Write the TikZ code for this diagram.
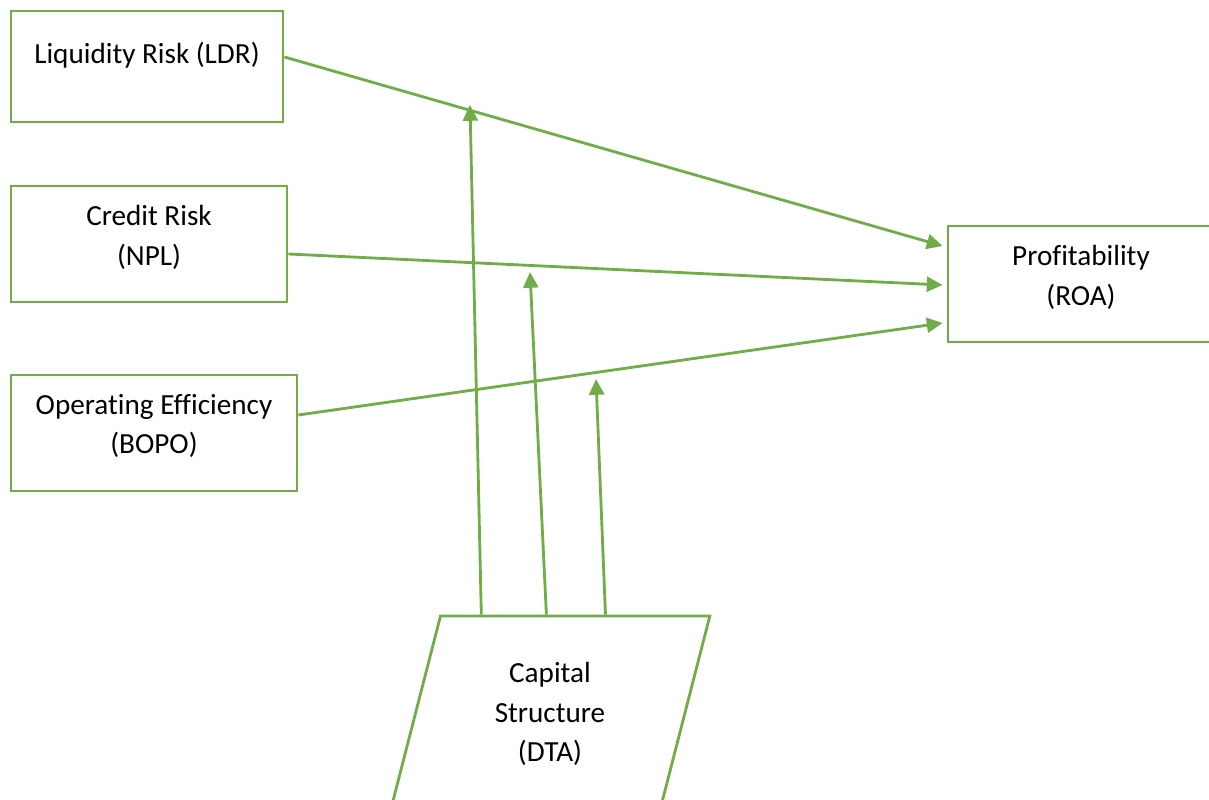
\documentclass[tikz,border=0pt]{standalone}
\usepackage{fontspec}
\setmainfont{Carlito}[Ligatures=NoCommon]
\usetikzlibrary{shapes.geometric,arrows.meta,calc}

\definecolor{linkgreen}{RGB}{112,173,71}

\begin{document}
\begin{tikzpicture}[
  varbox/.style={draw=linkgreen, line width=1.6pt, align=center, inner sep=0pt,
    font=\fontsize{16.6}{22.7}\selectfont},
  link/.style={draw=linkgreen, line width=1.6pt, -{Triangle[length=9pt,width=8.5pt]}}
]

  % page frame
  \clip (0,0) rectangle (24.18,16);
  \useasboundingbox (0,0) rectangle (24.18,16);

  % independent variables
  \node[varbox, minimum width=5.44cm, minimum height=2.22cm, text depth=0.55cm] (ldr) at (2.94,14.67) {Liquidity Risk (LDR)};
  \node[varbox, minimum width=5.52cm, minimum height=2.32cm, text depth=0.36cm] (npl) at (2.98,11.12) {Credit Risk\\(NPL)};
  \node[varbox, minimum width=5.72cm, minimum height=2.32cm, text depth=0.36cm] (bopo) at (3.08,7.34) {Operating Efficiency\\(BOPO)};

  % dependent variable
  \node[varbox, minimum width=5.32cm, minimum height=2.32cm, text depth=0.36cm] (roa) at (21.62,10.32) {Profitability\\(ROA)};

  % moderating variable
  \node[varbox, trapezium, trapezium stretches=true, trapezium left angle=76.3, trapezium right angle=103.7,
    minimum width=6.4cm, minimum height=3.92cm] (dta) at (11.0,1.72) {Capital\\Structure\\(DTA)};

  % direct effects
  \draw[link] ($(ldr.east)+(0,0.19)$) -- ($(roa.west)+(-0.08,0.76)$);
  \draw[link] ($(npl.east)+(0,-0.2)$) -- ($(roa.west)+(-0.08,-0.02)$);
  \draw[link] ($(bopo.east)+(0,0.36)$) -- ($(roa.west)+(-0.08,-0.78)$);

  % moderation onto each path
  \coordinate (ldrhit) at (9.40,13.90);
  \coordinate (nplhit) at (10.60,10.56);
  \coordinate (bopohit) at (11.92,8.42);
  \draw[link] ($(dta.top left corner)!0.154!(dta.top right corner)$) -- (ldrhit);
  \draw[link] ($(dta.top left corner)!0.393!(dta.top right corner)$) -- (nplhit);
  \draw[link] ($(dta.top left corner)!0.61!(dta.top right corner)$) -- (bopohit);

\end{tikzpicture}
\end{document}
